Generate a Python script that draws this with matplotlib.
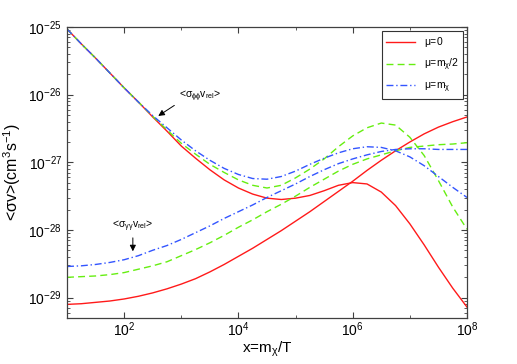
import numpy as np
import matplotlib
matplotlib.use('Agg')
from matplotlib import pyplot as plt
from matplotlib.ticker import LogLocator, NullFormatter

plt.rcParams['font.family'] = ['Liberation Sans', 'DejaVu Sans']
plt.rcParams['mathtext.fontset'] = 'custom'
plt.rcParams['mathtext.rm'] = 'Liberation Sans'
plt.rcParams['mathtext.it'] = 'Liberation Sans'
plt.rcParams['mathtext.sf'] = 'Liberation Sans'

# x = m_chi/T, as powers of ten
x_exp = [1.0, 1.25, 1.5, 1.75, 2.0, 2.25, 2.5, 2.75, 3.0, 3.25, 3.5, 3.75,
         4.0, 4.25, 4.5, 4.75, 5.0, 5.25, 5.5, 5.75, 6.0, 6.25, 6.5, 6.75,
         7.0, 7.25, 7.5, 7.75, 8.0]

# log10 <sigma v>, curves that start at the top (phi phi)
red_top = [-25.03, -25.25, -25.46, -25.68, -25.90, -26.11, -26.33, -26.54,
           -26.76, -26.94, -27.11, -27.26, -27.38, -27.47, -27.53, -27.55,
           -27.53, -27.49, -27.42, -27.34, -27.30, -27.32, -27.44, -27.64,
           -27.91, -28.22, -28.55, -28.86, -29.14]
green_top = [-25.03, -25.25, -25.46, -25.68, -25.90, -26.11, -26.32, -26.52,
             -26.72, -26.88, -27.03, -27.15, -27.26, -27.34, -27.38, -27.34,
             -27.23, -27.10, -26.95, -26.77, -26.61, -26.49, -26.42, -26.45,
             -26.63, -26.90, -27.27, -27.66, -27.99]
blue_top = [-25.03, -25.25, -25.46, -25.68, -25.90, -26.11, -26.31, -26.49,
            -26.67, -26.83, -26.97, -27.09, -27.18, -27.24, -27.25, -27.21,
            -27.13, -27.03, -26.94, -26.86, -26.80, -26.77, -26.78, -26.83,
            -26.92, -27.05, -27.21, -27.37, -27.52]

# curves that start at the bottom (gamma gamma)
red_bot = [-29.10, -29.09, -29.07, -29.05, -29.02, -28.98, -28.93, -28.87,
           -28.80, -28.72, -28.62, -28.51, -28.39, -28.27, -28.14, -28.01,
           -27.87, -27.73, -27.58, -27.43, -27.28, -27.12, -26.97, -26.83,
           -26.70, -26.58, -26.48, -26.40, -26.33]
green_bot = [-28.70, -28.69, -28.68, -28.66, -28.63, -28.58, -28.53, -28.47,
             -28.38, -28.29, -28.19, -28.08, -27.96, -27.85, -27.73, -27.62,
             -27.50, -27.37, -27.25, -27.13, -27.03, -26.95, -26.89, -26.83,
             -26.78, -26.76, -26.74, -26.73, -26.71]
blue_bot = [-28.54, -28.53, -28.51, -28.48, -28.44, -28.38, -28.30, -28.23,
            -28.14, -28.04, -27.94, -27.83, -27.73, -27.63, -27.52, -27.42,
            -27.32, -27.21, -27.11, -27.02, -26.95, -26.89, -26.84, -26.81,
            -26.80, -26.80, -26.81, -26.81, -26.81]

labels = [r'$\mu$=0', r'$\mu$=m$_\chi$/2', r'$\mu$=m$_\chi$']
x_ticks = [1e2, 1e4, 1e6, 1e8]
y_ticks = [1e-29, 1e-28, 1e-27, 1e-26, 1e-25]

x = 10.0 ** np.array(x_exp)
red = '#ff1a1a'
green = '#66ee11'
blue = '#3355ff'

fig = plt.figure(figsize=(5.17, 3.64), dpi=100)
ax = fig.add_axes([0.1296, 0.1264, 0.7737, 0.7995])

l1, = ax.plot(x, 10.0 ** np.array(red_top), '-', color=red, lw=1.0)
ax.plot(x, 10.0 ** np.array(red_bot), '-', color=red, lw=1.0)
l2, = ax.plot(x, 10.0 ** np.array(green_top), '--', color=green, lw=1.0, dashes=(5, 3))
ax.plot(x, 10.0 ** np.array(green_bot), '--', color=green, lw=1.0, dashes=(5, 3))
l3, = ax.plot(x, 10.0 ** np.array(blue_top), '-.', color=blue, lw=1.0, dashes=(5, 2, 1, 2))
ax.plot(x, 10.0 ** np.array(blue_bot), '-.', color=blue, lw=1.0, dashes=(5, 2, 1, 2))

ax.set_xscale('log')
ax.set_yscale('log')
ax.set_xlim(1e1, 1e8)
ax.set_ylim(5e-30, 1e-25)
ax.set_xticks(x_ticks)
ax.set_yticks(y_ticks)
ax.xaxis.set_minor_locator(LogLocator(base=10, subs=[]))
ax.xaxis.set_minor_formatter(NullFormatter())
ax.yaxis.set_minor_locator(LogLocator(base=10, subs=np.arange(2, 10), numticks=20))
ax.yaxis.set_minor_formatter(NullFormatter())
ax.tick_params(which='both', direction='in', top=True, right=True, labelsize=10,
               color='0.25')
ax.tick_params(axis='x', pad=2)
ax.tick_params(which='major', length=4)
ax.tick_params(which='minor', length=2)
for s in ax.spines.values():
    s.set_color('0.25')
    s.set_linewidth(0.9)

ax.set_xlabel(r'x=m$_\chi$/T', fontsize=11, labelpad=0)
ax.set_ylabel(r'<$\sigma$v>(cm$^3$s$^{-1}$)', fontsize=11.5, labelpad=4)

leg = ax.legend([l1, l2, l3], labels, loc='upper right', fontsize=7.5,
                fancybox=False, framealpha=1, edgecolor='0.2',
                handlelength=2.8, borderaxespad=0.4, labelspacing=0.7)
leg.get_frame().set_linewidth(0.8)

# annotations
ax.annotate('', xy=(360, 4.6e-27), xytext=(830, 7.3e-27),
            arrowprops=dict(arrowstyle='-|>', color='k', lw=0.7, mutation_scale=9))
ax.text(2100, 9.5e-27, r'<$\sigma_{\phi\phi}$v$_{rel}$>', fontsize=7.5,
        ha='center', va='center')
ax.annotate('', xy=(142, 4.4e-29), xytext=(142, 8.4e-29),
            arrowprops=dict(arrowstyle='-|>', color='k', lw=0.7, mutation_scale=9))
ax.text(142, 1.12e-28, r'<$\sigma_{\gamma\gamma}$v$_{rel}$>', fontsize=7.5,
        ha='center', va='center')

fig.savefig('out.png', dpi=100)
